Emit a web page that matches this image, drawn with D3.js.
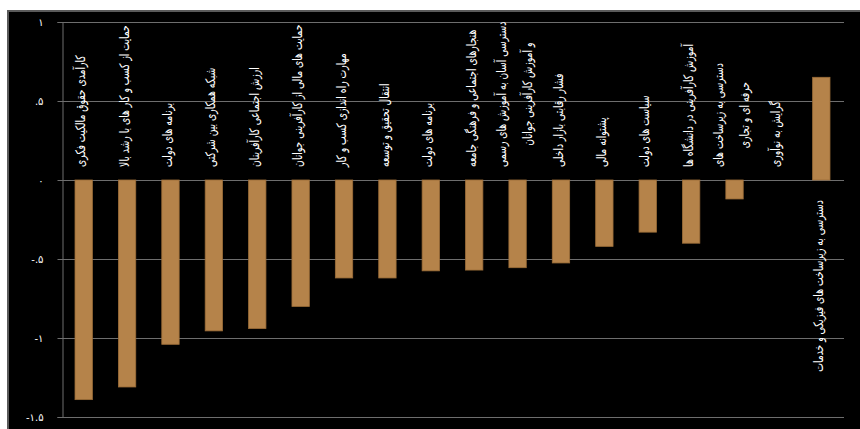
<!DOCTYPE html>
<html><head><meta charset="utf-8">
<script src="https://cdn.jsdelivr.net/npm/d3@7"></script>
<style>
html,body{margin:0;padding:0;background:#fff;}
svg{display:block;}
</style></head>
<body>
<svg id="chart" width="860" height="429"></svg>
<script>
const categories = [
  ["کارآمدی حقوق مالکیت فکری"],
  ["حمایت از کسب و کار های با رشد بالا"],
  ["برنامه های دولت"],
  ["شبکه همکاری بین شرکتی"],
  ["ارزش اجتماعی کارآفرینان"],
  ["حمایت های مالی از کارآفرینی جوانان"],
  ["مهارت راه اندازی کسب و کار"],
  ["انتقال تحقیق و توسعه"],
  ["برنامه های دولت"],
  ["هنجارهای اجتماعی و فرهنگی جامعه"],
  ["دسترسی آسان به آموزش های رسمی", "و آموزش کارآفرینی جوانان"],
  ["فشار رقابتی بازار داخلی"],
  ["پشتوانه مالی"],
  ["سیاست های دولت"],
  ["آموزش کارآفرینی در دانشگاه ها"],
  ["دسترسی به زیرساخت های", "حرفه ای و تجاری"],
  ["گرایش به نوآوری"],
  ["دسترسی به زیرساخت های فیزیکی و خدمات"]
];
const values = [-1.39, -1.31, -1.04, -0.955, -0.94, -0.80, -0.62, -0.62, -0.575, -0.57, -0.555, -0.525, -0.42, -0.33, -0.40, -0.12, 0, 0.65];
const yTicks = [1, 0.5, 0, -0.5, -1, -1.5];
const yTickLabels = ["۱", ".۵", "۰", "-.۵", "-۱", "-۱.۵"];

const svg = d3.select("#chart");
svg.append("rect").attr("x", 8).attr("y", 11).attr("width", 860).attr("height", 430)
  .attr("fill", "#000").attr("stroke", "#5a5a5a").attr("stroke-width", 2);

const mLeft = 62, mRight = 843, mTop = 22, mBottom = 417;
const x = d3.scaleBand().domain(d3.range(values.length)).range([mLeft, mRight])
  .paddingInner(0.6).paddingOuter(0.3);
const y = d3.scaleLinear().domain([-1.5, 1]).range([mBottom, mTop]);

svg.append("g").selectAll("line").data(yTicks).join("line")
  .attr("x1", mLeft).attr("x2", 844)
  .attr("y1", d => Math.round(y(d)) + 0.5).attr("y2", d => Math.round(y(d)) + 0.5)
  .attr("stroke", "#6e6e6e").attr("stroke-width", 1);

const yAxis = d3.axisLeft(y).tickValues(yTicks).tickSize(5).tickPadding(14)
  .tickFormat((d, i) => yTickLabels[i]);
const ga = svg.append("g").attr("transform", `translate(${mLeft + 0.5},0)`).call(yAxis);
ga.select(".domain").attr("stroke", "#6e6e6e");
ga.selectAll(".tick line").attr("stroke", "#6e6e6e");
ga.selectAll(".tick text").attr("fill", "#fff").attr("font-size", 10)
  .attr("font-family", "DejaVu Sans").attr("direction", "ltr");

svg.append("g").selectAll("rect").data(values).join("rect")
  .attr("x", (d, i) => x(i))
  .attr("width", x.bandwidth())
  .attr("y", d => y(Math.max(0, d)))
  .attr("height", d => Math.abs(y(d) - y(0)))
  .attr("fill", "#b5834a")
  .attr("stroke", "#9c6d38").attr("stroke-width", 0.8);

const lineH = 26, sx = 0.84, sy = 1.2;
const lg = svg.append("g");
categories.forEach((lines, i) => {
  const cx = x(i) + x.bandwidth() / 2 - 3;
  const g = lg.append("g");
  const texts = lines.map((ln, j) => g.append("text").text(ln)
    .attr("fill", "#fff").attr("font-size", 11).attr("font-family", "DejaVu Sans")
    .attr("text-anchor", "middle").attr("dominant-baseline", "central")
    .attr("x", 0).attr("y", (j - (lines.length - 1) / 2) * lineH / sy));
  const maxLen = d3.max(texts, t => t.node().getComputedTextLength()) * sx;
  let cy;
  if (values[i] <= 0) cy = y(0) - 13 - maxLen / 2;
  else cy = y(0) + 20 + maxLen / 2;
  g.attr("transform", `translate(${cx},${cy}) rotate(-90) scale(${sx},${sy})`);
});
</script>
</body></html>
